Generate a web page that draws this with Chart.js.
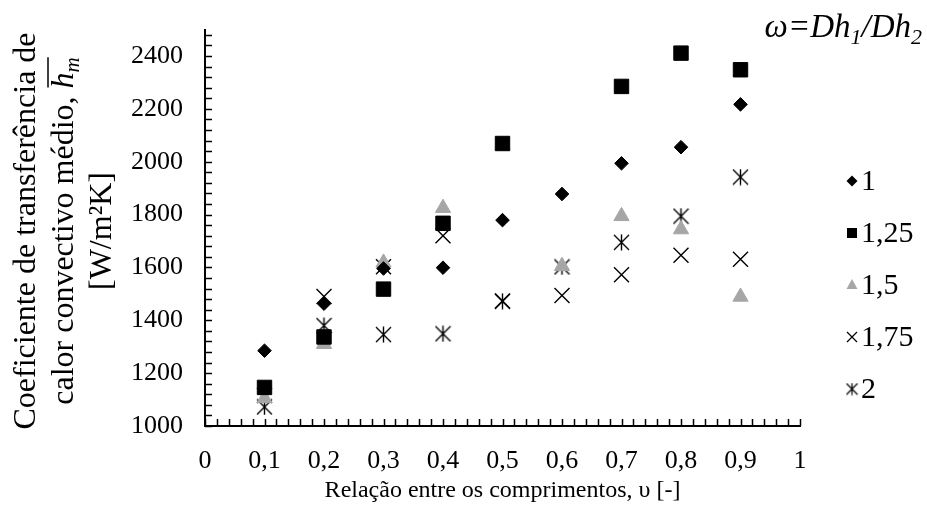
<!DOCTYPE html>
<html>
<head>
<meta charset="utf-8">
<script src="https://cdn.jsdelivr.net/npm/chart.js@4.4.1/dist/chart.umd.min.js"></script>
<style>
  html, body { margin: 0; padding: 0; background: #fff; }
  #wrap { width: 927px; height: 517px; }
</style>
</head>
<body>
<div id="wrap"><canvas id="hm-chart" width="927" height="517"></canvas></div>
<script>
// relação entre os comprimentos (eixo x)
const razao = [0.1, 0.2, 0.3, 0.4, 0.5, 0.6, 0.7, 0.8, 0.9];

// h médio [W/m²K] para cada ω = Dh1/Dh2
const omegaNomes = ['1', '1,25', '1,5', '1,75', '2'];
const hmOmega1   = [1285, 1463, 1596, 1599, 1779, 1878, 1994, 2055, 2217];
const hmOmega125 = [1146, 1337, 1518, 1767, 2069, null, 2285, 2411, 2348];
const hmOmega15  = [1105, 1310, 1618, 1825, 2063, 1605, 1794, 1744, 1489];
const hmOmega175 = [1115, 1490, 1603, 1720, 1473, 1494, 1572, 1646, 1631];
const hmOmega2   = [1072, 1380, 1346, 1349, 1472, 1602, 1695, 1794, 1942];

// marcas dos eixos
const yTickValues = [1000, 1200, 1400, 1600, 1800, 2000, 2200, 2400];
const xTickValues = [0, 0.1, 0.2, 0.3, 0.4, 0.5, 0.6, 0.7, 0.8, 0.9, 1];
const xTickLabels = ['0', '0,1', '0,2', '0,3', '0,4', '0,5', '0,6', '0,7', '0,8', '0,9', '1'];

const FONTE = '"Liberation Serif", "Times New Roman", serif';
const CINZA = '#a6a6a6';

// asterisco: X com traço vertical
function criaAsterisco(tam, lw) {
  const c = document.createElement('canvas');
  c.width = tam; c.height = tam;
  const g = c.getContext('2d');
  const m = tam / 2, r = tam / 2 - 1;
  g.strokeStyle = '#000';
  g.lineWidth = lw;
  g.beginPath();
  g.moveTo(m - r, m - r); g.lineTo(m + r, m + r);
  g.moveTo(m + r, m - r); g.lineTo(m - r, m + r);
  g.moveTo(m, m - r - 0.5); g.lineTo(m, m + r + 0.5);
  g.stroke();
  return c;
}
const asterisco = criaAsterisco(17, 1.4);
const asteriscoLegenda = criaAsterisco(13, 1.2);

const pontos = (ys) => razao.map((x, i) => ({ x: x, y: ys[i] }));

const series = [
  { data: hmOmega1,   estilo: 'rectRot',  raio: 6.8,  cor: '#000', lw: 1 },
  { data: hmOmega125, estilo: 'rect',     raio: 10.2, cor: '#000', lw: 1 },
  { data: hmOmega15,  estilo: 'triangle', raio: 8.8,  cor: CINZA,  lw: 1 },
  { data: hmOmega175, estilo: 'crossRot', raio: 10.6, cor: '#000', lw: 1.4 },
  { data: hmOmega2,   estilo: asterisco,  raio: 8.5,  cor: '#000', lw: 1 }
];

// marcas menores internas nos eixos
const marcasInternas = {
  id: 'marcasInternas',
  beforeDatasetsDraw(chart) {
    const { ctx, chartArea: a, scales: { x, y } } = chart;
    ctx.save();
    ctx.strokeStyle = '#000';
    ctx.lineWidth = 1.5;
    ctx.beginPath();
    for (let v = 1000; v <= 2480; v += 40) {
      const py = Math.round(y.getPixelForValue(v)) + 0.5;
      ctx.moveTo(a.left, py); ctx.lineTo(a.left + 7, py);
    }
    for (let i = 0; i <= 50; i++) {
      const px = Math.round(x.getPixelForValue(i * 0.02)) + 0.5;
      ctx.moveTo(px, a.bottom); ctx.lineTo(px, a.bottom - 7);
    }
    ctx.stroke();
    ctx.restore();
  }
};

function marcaLegenda(ctx, estilo, cx, cy, cor) {
  ctx.save();
  ctx.fillStyle = cor;
  ctx.strokeStyle = cor;
  ctx.lineWidth = 1.2;
  ctx.beginPath();
  if (estilo === 'rectRot') {
    const r = 5.5;
    ctx.moveTo(cx, cy - r); ctx.lineTo(cx + r, cy); ctx.lineTo(cx, cy + r); ctx.lineTo(cx - r, cy);
    ctx.closePath(); ctx.fill();
  } else if (estilo === 'rect') {
    ctx.rect(cx - 5, cy - 5, 10, 10); ctx.fill();
  } else if (estilo === 'triangle') {
    ctx.moveTo(cx, cy - 6); ctx.lineTo(cx + 5.5, cy + 4); ctx.lineTo(cx - 5.5, cy + 4);
    ctx.closePath(); ctx.fill();
  } else if (estilo === 'crossRot') {
    const r = 5;
    ctx.moveTo(cx - r, cy - r); ctx.lineTo(cx + r, cy + r);
    ctx.moveTo(cx + r, cy - r); ctx.lineTo(cx - r, cy + r);
    ctx.stroke();
  } else {
    ctx.drawImage(asteriscoLegenda, cx - asteriscoLegenda.width / 2, cy - asteriscoLegenda.height / 2);
  }
  ctx.restore();
}

// títulos, rótulo de ω e legenda
const textos = {
  id: 'textos',
  afterDraw(chart) {
    const { ctx, chartArea: a } = chart;
    ctx.save();
    ctx.fillStyle = '#000';

    // título do eixo x
    ctx.font = '24px ' + FONTE;
    ctx.textAlign = 'center';
    ctx.textBaseline = 'alphabetic';
    ctx.fillText('Relação entre os comprimentos, υ [-]', (a.left + a.right) / 2, 497);

    // título do eixo y (três linhas, girado)
    ctx.save();
    ctx.translate(0, 231);
    ctx.rotate(-Math.PI / 2);
    ctx.font = '32px ' + FONTE;
    ctx.textBaseline = 'middle';
    ctx.textAlign = 'center';
    ctx.fillText('Coeficiente de transferência de', 0, 27);
    ctx.fillText('[W/m²K]', 0, 103);

    const parte = 'calor convectivo médio, ';
    ctx.font = '32px ' + FONTE;
    const wParte = ctx.measureText(parte).width;
    ctx.font = 'italic 32px ' + FONTE;
    const wH = ctx.measureText('h').width;
    ctx.font = 'italic 21px ' + FONTE;
    const wM = ctx.measureText('m').width;
    let x0 = -(wParte + wH + wM) / 2;
    ctx.textAlign = 'left';
    ctx.textBaseline = 'alphabetic';
    const base = 73;
    ctx.font = '32px ' + FONTE;
    ctx.fillText(parte, x0, base);
    ctx.font = 'italic 32px ' + FONTE;
    ctx.fillText('h', x0 + wParte, base);
    ctx.font = 'italic 21px ' + FONTE;
    ctx.fillText('m', x0 + wParte + wH, base + 6);
    ctx.lineWidth = 1.5;
    ctx.beginPath();
    ctx.moveTo(x0 + wParte + 1, base - 25);
    ctx.lineTo(x0 + wParte + wH + wM, base - 25);
    ctx.stroke();
    ctx.restore();

    // ω = Dh1/Dh2, alinhado à direita
    const by = 37;
    ctx.textAlign = 'left';
    ctx.textBaseline = 'alphabetic';
    const pedacos = [
      ['ω=Dh', 33, 0], ['1', 22, 7], ['/Dh', 33, 0], ['2', 22, 7]
    ];
    let largura = 0;
    for (const [t, tam] of pedacos) {
      ctx.font = 'italic ' + tam + 'px ' + FONTE;
      largura += ctx.measureText(t).width;
    }
    let px = 922 - largura;
    for (const [t, tam, dy] of pedacos) {
      ctx.font = 'italic ' + tam + 'px ' + FONTE;
      ctx.fillText(t, px, by + dy);
      px += ctx.measureText(t).width;
    }

    // legenda
    ctx.font = '30px ' + FONTE;
    ctx.textBaseline = 'middle';
    chart.data.datasets.forEach((ds, i) => {
      const cy = 181 + i * 52;
      marcaLegenda(ctx, series[i].estilo === asterisco ? 'ast' : series[i].estilo, 852, cy, series[i].cor);
      ctx.fillStyle = '#000';
      ctx.fillText(ds.label, 861, cy + 1);
    });
    ctx.restore();
  }
};

const ctx = document.getElementById('hm-chart').getContext('2d');
window.hmChart = new Chart(ctx, {
  type: 'scatter',
  data: {
    datasets: series.map((s, i) => ({
      label: omegaNomes[i],
      data: pontos(s.data),
      pointStyle: s.estilo,
      pointRadius: s.raio,
      backgroundColor: s.cor,
      borderColor: s.cor,
      borderWidth: s.lw,
      showLine: false
    }))
  },
  options: {
    responsive: false,
    animation: false,
    devicePixelRatio: 1,
    events: [],
    layout: { padding: { top: 21, right: 127, left: 0, bottom: 0 } },
    plugins: { legend: { display: false }, tooltip: { enabled: false } },
    scales: {
      x: {
        type: 'linear',
        min: 0,
        max: 1,
        afterFit: (s) => { s.height = 91; },
        afterBuildTicks: (s) => { s.ticks = xTickValues.map(v => ({ value: v })); },
        grid: { display: false },
        border: { display: true, color: '#000', width: 2 },
        ticks: {
          padding: 12,
          color: '#000',
          font: { family: FONTE, size: 26 },
          maxRotation: 0,
          autoSkip: false,
          callback: (v, i) => xTickLabels[i]
        }
      },
      y: {
        type: 'linear',
        min: 1000,
        max: 2500,
        afterFit: (s) => { s.width = 205; },
        afterBuildTicks: (s) => { s.ticks = yTickValues.map(v => ({ value: v })); },
        grid: { display: false },
        border: { display: true, color: '#000', width: 2 },
        ticks: {
          padding: 14,
          color: '#000',
          font: { family: FONTE, size: 26 },
          autoSkip: false,
          callback: (v) => String(v)
        }
      }
    }
  },
  plugins: [marcasInternas, textos]
});
</script>
</body>
</html>
